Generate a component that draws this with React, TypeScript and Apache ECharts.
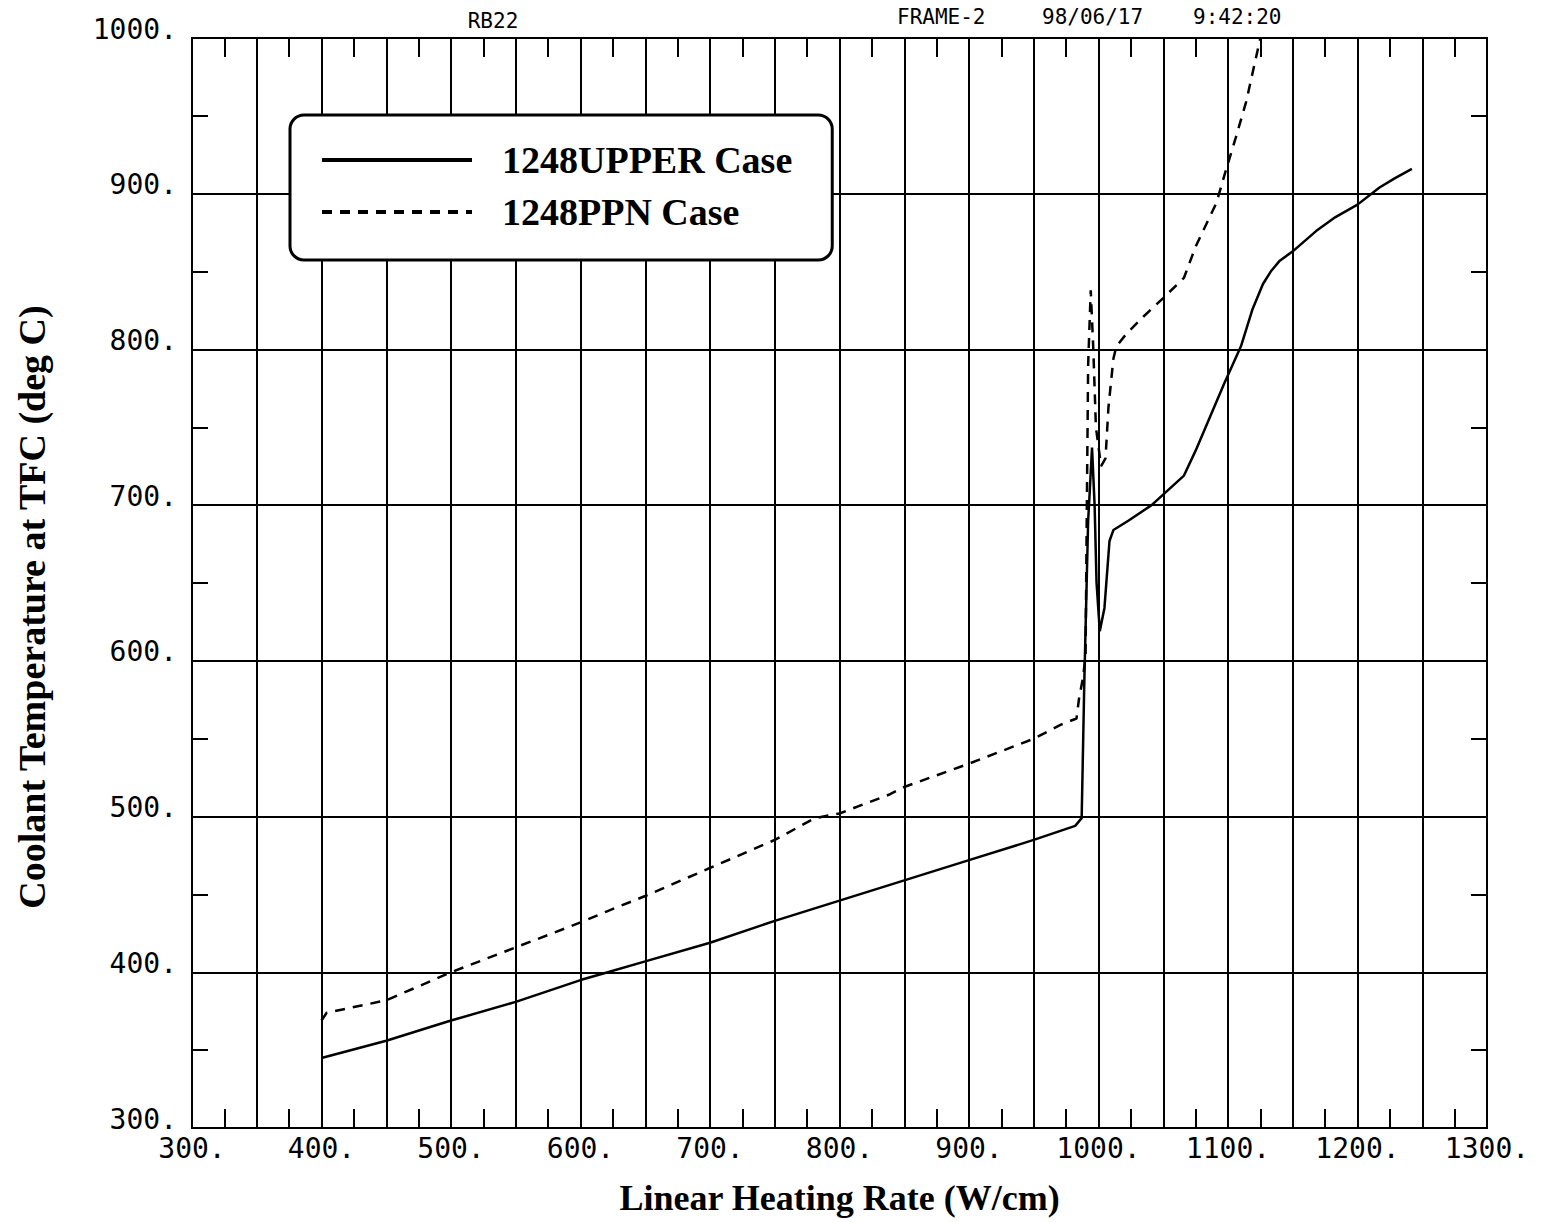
import React, { useEffect, useRef } from "react";
import * as echarts from "echarts";

// 1248UPPER Case (solid line)
const upperX = [400, 450, 500, 550, 600, 621, 650, 700, 750, 800, 850, 900, 950, 982, 987, 989, 990, 992, 993, 995, 997, 998.5, 1001, 1004.6, 1008.5, 1011.5, 1023, 1041, 1066, 1075, 1097, 1110, 1119, 1127, 1133, 1140, 1150, 1168, 1183, 1200, 1217, 1229, 1242];
const upperY = [345, 356, 369, 381, 395, 400, 407, 419, 433, 446, 459, 472, 485, 494, 499, 585, 620, 690, 705, 737, 700, 650, 619, 634, 677, 684, 690, 700, 719, 735, 778, 802, 826, 842, 850, 857, 863, 876, 885, 893, 904, 910, 916];

// 1248PPN Case (dashed line)
const ppnX = [400, 404, 450, 500, 550, 600, 620, 650, 700, 750, 781, 800, 838, 850, 900, 950, 971, 983, 985, 988, 990, 991, 992, 994, 996, 998, 1002, 1005.4, 1007.7, 1011.5, 1013.8, 1021.5, 1034.6, 1050, 1066, 1075, 1091, 1098, 1106, 1114, 1125];
const ppnY = [369, 374, 382, 400, 416, 432, 439, 449, 467, 485, 499, 502, 514, 519, 534, 550, 559, 563, 576, 589, 603, 700, 790, 838, 800, 750, 725, 730, 763, 794, 802, 810, 821, 833, 846, 866, 894, 914, 936, 959, 1000];

const seriesNames = ["1248UPPER Case", "1248PPN Case"];
const headerLeft = "RB22";
const headerRight = ["FRAME-2", "98/06/17", "9:42:20"];
const xTitle = "Linear Heating Rate (W/cm)";
const yTitle = "Coolant Temperature at TFC (deg C)";

const MONO = "DejaVu Sans Mono";
const SERIF = "Liberation Serif, Times New Roman, serif";

export default function App() {
  const ref = useRef<HTMLDivElement>(null);

  useEffect(() => {
    document.body.style.margin = "0";
    if (!ref.current) return;
    const chart = echarts.init(ref.current, undefined, { renderer: "svg" });

    const upper = upperX.map((x, i) => [x, upperY[i]]);
    const ppn = ppnX.map((x, i) => [x, ppnY[i]]);

    const black = "#000";
    const lineW = 2;

    const xBase = {
      type: "value",
      min: 300,
      max: 1300,
      interval: 50,
      axisLine: { show: true, lineStyle: { color: black, width: lineW } },
      axisTick: { show: false, inside: true },
      minorTick: { show: true, splitNumber: 2, length: 19, lineStyle: { color: black, width: lineW } },
      minorSplitLine: { show: false },
    };
    const yBase = {
      type: "value",
      min: 300,
      max: 1000,
      interval: 100,
      axisLine: { show: true, lineStyle: { color: black, width: lineW } },
      axisTick: { show: false, inside: true },
      minorTick: { show: true, splitNumber: 2, length: 16, lineStyle: { color: black, width: lineW } },
      minorSplitLine: { show: false },
    };

    const option: any = {
      animation: false,
      backgroundColor: "#fff",
      grid: {
        left: 192,
        right: 57,
        top: 38,
        bottom: 94,
        show: true,
        borderColor: black,
        borderWidth: lineW,
      },
      xAxis: [
        {
          ...xBase,
          position: "bottom",
          splitLine: { show: true, lineStyle: { color: black, width: lineW } },
          axisLabel: {
            formatter: (v: number) => (v % 100 === 0 ? `${v}.` : ""),
            fontFamily: MONO,
            fontSize: 28,
            color: black,
            margin: 6,
          },
          name: xTitle,
          nameLocation: "middle",
          nameGap: 52,
          nameTextStyle: { fontFamily: SERIF, fontWeight: "bold", fontSize: 36, color: black },
        },
        {
          ...xBase,
          position: "top",
          splitLine: { show: false },
          axisLabel: { show: false },
        },
      ],
      yAxis: [
        {
          ...yBase,
          position: "left",
          splitLine: { show: true, lineStyle: { color: black, width: lineW } },
          axisLabel: {
            formatter: (v: number) => `${v}.`,
            fontFamily: MONO,
            fontSize: 28,
            color: black,
            margin: 15,
            verticalAlign: "bottom",
            lineHeight: 18,
          },
        },
        {
          ...yBase,
          position: "right",
          splitLine: { show: false },
          axisLabel: { show: false },
        },
      ],
      legend: {
        orient: "vertical",
        left: 290,
        top: 115,
        padding: [26, 40, 29, 30],
        itemGap: 14,
        itemWidth: 150,
        itemHeight: 20,
        borderColor: black,
        borderWidth: 3,
        borderRadius: 14,
        backgroundColor: "#fff",
        data: seriesNames,
        itemStyle: { color: "transparent", borderColor: "transparent", borderWidth: 0, opacity: 0 },
        textStyle: {
          fontFamily: SERIF,
          fontWeight: "bold",
          fontSize: 38,
          color: black,
          padding: [0, 0, 0, 25],
        },
        lineStyle: { width: 4 },
      },
      graphic: [
        {
          type: "text",
          style: {
            text: headerLeft,
            x: 493,
            y: 21,
            textAlign: "center",
            textVerticalAlign: "middle",
            font: `21px ${MONO}`,
            fill: black,
          },
        },
        ...headerRight.map((t, i) => ({
          type: "text",
          style: {
            text: t,
            x: [897, 1042, 1193][i],
            y: 17,
            textAlign: "left",
            textVerticalAlign: "middle",
            font: `21px ${MONO}`,
            fill: black,
          },
        })),
        {
          type: "text",
          x: 32,
          y: 607,
          rotation: Math.PI / 2,
          style: {
            text: yTitle,
            x: 0,
            y: 0,
            textAlign: "center",
            textVerticalAlign: "middle",
            font: `bold 38px ${SERIF}`,
            fill: black,
          },
        },
      ],
      series: [
        {
          type: "line",
          name: seriesNames[0],
          data: upper,
          xAxisIndex: 0,
          yAxisIndex: 0,
          symbol: "none",
          showSymbol: false,
          itemStyle: { color: black },
          lineStyle: { color: black, width: 2.5, type: "solid" },
          z: 5,
        },
        {
          type: "line",
          name: seriesNames[1],
          data: ppn,
          xAxisIndex: 0,
          yAxisIndex: 0,
          symbol: "none",
          showSymbol: false,
          itemStyle: { color: black },
          lineStyle: { color: black, width: 2.5, type: [10, 8] },
          z: 5,
        },
      ],
    };

    chart.setOption(option);
    return () => chart.dispose();
  }, []);

  return <div ref={ref} style={{ width: 1544, height: 1222, background: "#fff" }} />;
}
